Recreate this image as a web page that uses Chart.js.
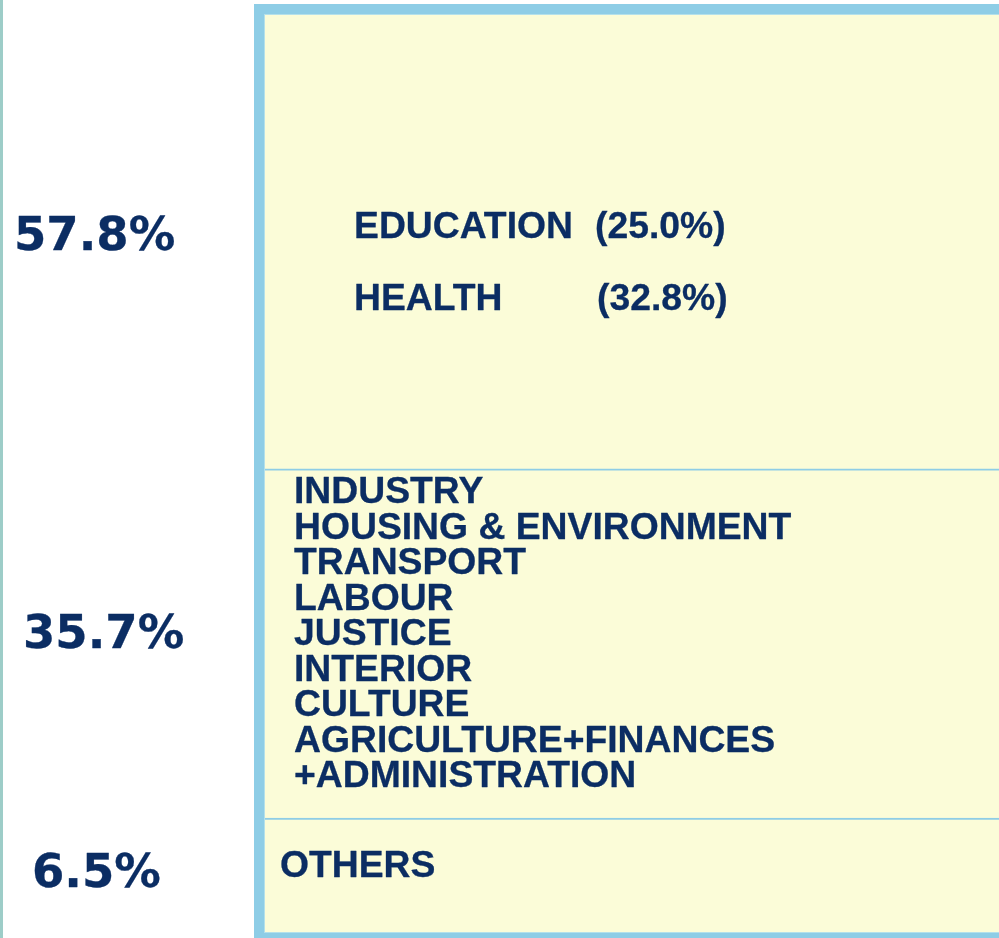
<!DOCTYPE html>
<html>
<head>
<meta charset="utf-8">
<script src="https://cdn.jsdelivr.net/npm/chart.js@4.4.1/dist/chart.umd.min.js"></script>
<style>
  html, body { margin: 0; padding: 0; background: #ffffff; }
  #wrap { position: relative; width: 999px; height: 938px; overflow: hidden; }
  #c { position: absolute; left: 0; top: 0; }
</style>
</head>
<body>
<div id="wrap"><canvas id="c" width="1040" height="960"></canvas></div>
<script>
// ---- data (bottom segment first) ----
const groups = ['OTHERS', 'OTHER MINISTRIES', 'EDUCATION + HEALTH'];
const shareLabels = ['6.5%', '35.7%', '57.8%'];
// share of the box each segment occupies as drawn in the reference (not proportional to the labels)
const drawnSpan = [12.9, 37.6, 49.5];
const topItems = ['EDUCATION', 'HEALTH'];
const topItemShares = ['(25.0%)', '(32.8%)'];
const middleItems = ['INDUSTRY', 'HOUSING & ENVIRONMENT', 'TRANSPORT', 'LABOUR', 'JUSTICE',
                     'INTERIOR', 'CULTURE', 'AGRICULTURE+FINANCES', '+ADMINISTRATION'];
const bottomItems = ['OTHERS'];

// ---- styles ----
const NAVY = '#0B2D63';
const FRAME = '#8ECDE6';
const FILL = '#FBFCD8';
const INNER_FONT = 'bold 37.3px "Liberation Sans", Arial, sans-serif';
const SIDE_FONT = 'bold 46.5px "DejaVu Sans", Verdana, sans-serif';

function boldText(ctx, t, x, y, w) {
  ctx.fillText(t, x, y);
  ctx.lineWidth = w;
  ctx.strokeText(t, x, y);
}

const framePlugin = {
  id: 'framePlugin',
  beforeDraw(chart) {
    const ctx = chart.ctx;
    ctx.save();
    ctx.fillStyle = '#9DCDC8';
    ctx.fillRect(0, 0, 3, chart.height);
    ctx.restore();
  },
  afterDatasetsDraw(chart) {
    const ctx = chart.ctx;
    const segs = groups.map((g, i) => chart.getDatasetMeta(i).data[0]);
    let left = Infinity, right = -Infinity, top = Infinity, bottom = -Infinity;
    segs.forEach(b => {
      const p = b.getProps(['x', 'y', 'base', 'width'], true);
      left = Math.min(left, p.x - p.width / 2);
      right = Math.max(right, p.x + p.width / 2);
      top = Math.min(top, p.y, p.base);
      bottom = Math.max(bottom, p.y, p.base);
    });
    ctx.save();
    // thin lighter inner line
    ctx.strokeStyle = '#B4E0EA';
    ctx.lineWidth = 1;
    ctx.strokeRect(left + 5.5, top + 5.5, right - left - 11, bottom - top - 11);
    // thick frame
    ctx.strokeStyle = FRAME;
    ctx.lineWidth = 10;
    ctx.strokeRect(left, top, right - left, bottom - top);

    ctx.fillStyle = NAVY;
    ctx.strokeStyle = NAVY;
    ctx.lineJoin = 'round';
    ctx.textBaseline = 'alphabetic';
    ctx.textAlign = 'left';
    const seg = i => {
      const p = segs[i].getProps(['y', 'base'], true);
      return { top: Math.min(p.y, p.base), bottom: Math.max(p.y, p.base) };
    };
    // inner texts
    ctx.font = INNER_FONT;
    const sTop = seg(2), sMid = seg(1), sBot = seg(0);
    const topBase = [228.5, 301];
    topItems.forEach((t, i) => {
      boldText(ctx, t, left + 95, sTop.top + topBase[i], 0.3);
      boldText(ctx, topItemShares[i], left + 336 + i * 2, sTop.top + topBase[i], 0.3);
    });
    middleItems.forEach((t, i) => {
      boldText(ctx, t, left + 35, sMid.top + 34.3 + i * 35.5, 0.3);
    });
    bottomItems.forEach((t, i) => {
      boldText(ctx, t, left + 21, sBot.top + 59, 0.3);
    });
    // side percentage labels
    ctx.font = SIDE_FONT;
    const sideX = [32, 23, 14];
    const sideDy = [8.7, 4.5, 11];
    shareLabels.forEach((t, i) => {
      const s = seg(i);
      boldText(ctx, t, sideX[i], (s.top + s.bottom) / 2 + sideDy[i], 0.3);
    });
    ctx.restore();
  }
};

new Chart(document.getElementById('c'), {
  type: 'bar',
  data: {
    labels: ['Budget'],
    datasets: groups.map((g, i) => ({
      label: g,
      data: [drawnSpan[i]],
      backgroundColor: FILL,
      borderColor: FRAME,
      borderWidth: i < 2 ? { top: 2, left: 0, right: 0, bottom: 0 } : 0,
      borderSkipped: false,
      categoryPercentage: 1,
      barPercentage: 1
    }))
  },
  options: {
    responsive: false,
    animation: false,
    events: [],
    layout: { padding: { left: 259, top: 9, right: 20, bottom: 22 } },
    plugins: { legend: { display: false }, tooltip: { enabled: false } },
    scales: {
      x: { stacked: true, display: false },
      y: { stacked: true, display: false, min: 0, max: 100 }
    }
  },
  plugins: [framePlugin]
});
</script>
</body>
</html>
